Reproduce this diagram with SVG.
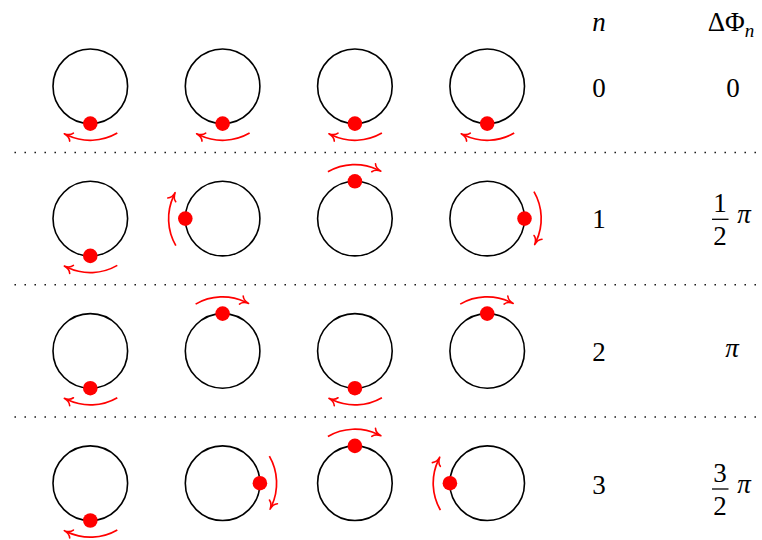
<svg xmlns="http://www.w3.org/2000/svg" width="762" height="540" viewBox="0 0 762 540">
<defs>
<style>
.ring{fill:none;stroke:#000;stroke-width:1.6}
.dot{fill:#ff0000}
.rot{fill:none;stroke:#ff0000;stroke-width:1.7;marker-end:url(#ah)}
.sep{stroke:#000;stroke-width:1.4;stroke-dasharray:1.4 8.6}
.t{font-family:'Liberation Serif','DejaVu Serif',serif;font-size:27px;fill:#000;text-anchor:middle}
.it{font-style:italic}
</style>
<marker id="ah" markerUnits="userSpaceOnUse" markerWidth="16" markerHeight="16" refX="0" refY="0" orient="auto" overflow="visible">
<path d="M-4.5,-4.4 C-3,-1.6 0,-0.3 3.5,0 C0,0.3 -3,1.6 -4.5,4.4" fill="none" stroke="#ff0000" stroke-width="1.6" stroke-linecap="round" stroke-linejoin="round"/>
</marker>
<g id="c">
<circle class="ring" r="37.3"/>
</g>
</defs>

<g id="separators">
<line class="sep" x1="14.5" y1="152.5" x2="762" y2="152.5"/>
<line class="sep" x1="14.5" y1="284.8" x2="762" y2="284.8"/>
<line class="sep" x1="14.5" y1="417" x2="762" y2="417"/>
</g>

<!-- Row 0 -->
<g id="r0c1" transform="translate(90.3,86.3)"><use href="#c"/><circle class="dot" cx="0" cy="37.3" r="7.3"/><path class="rot" d="M27,46.77 A54,54 0 0 1 -22.82,48.94"/></g>
<g id="r0c2" transform="translate(222.6,86.3)"><use href="#c"/><circle class="dot" cx="0" cy="37.3" r="7.3"/><path class="rot" d="M27,46.77 A54,54 0 0 1 -22.82,48.94"/></g>
<g id="r0c3" transform="translate(354.9,86.3)"><use href="#c"/><circle class="dot" cx="0" cy="37.3" r="7.3"/><path class="rot" d="M27,46.77 A54,54 0 0 1 -22.82,48.94"/></g>
<g id="r0c4" transform="translate(487.2,86.3)"><use href="#c"/><circle class="dot" cx="0" cy="37.3" r="7.3"/><path class="rot" d="M27,46.77 A54,54 0 0 1 -22.82,48.94"/></g>

<!-- Row 1 -->
<g id="r1c1" transform="translate(90.3,218.6)"><use href="#c"/><circle class="dot" cx="0" cy="37.3" r="7.3"/><path class="rot" d="M27,46.77 A54,54 0 0 1 -22.82,48.94"/></g>
<g id="r1c2" transform="translate(222.6,218.6)"><use href="#c"/><circle class="dot" cx="-37.3" cy="0" r="7.3"/><path class="rot" d="M-46.77,27 A54,54 0 0 1 -48.94,-22.82"/></g>
<g id="r1c3" transform="translate(354.9,218.6)"><use href="#c"/><circle class="dot" cx="0" cy="-37.3" r="7.3"/><path class="rot" d="M-27,-46.77 A54,54 0 0 1 22.82,-48.94"/></g>
<g id="r1c4" transform="translate(487.2,218.6)"><use href="#c"/><circle class="dot" cx="37.3" cy="0" r="7.3"/><path class="rot" d="M46.77,-27 A54,54 0 0 1 48.94,22.82"/></g>

<!-- Row 2 -->
<g id="r2c1" transform="translate(90.3,350.9)"><use href="#c"/><circle class="dot" cx="0" cy="37.3" r="7.3"/><path class="rot" d="M27,46.77 A54,54 0 0 1 -22.82,48.94"/></g>
<g id="r2c2" transform="translate(222.6,350.9)"><use href="#c"/><circle class="dot" cx="0" cy="-37.3" r="7.3"/><path class="rot" d="M-27,-46.77 A54,54 0 0 1 22.82,-48.94"/></g>
<g id="r2c3" transform="translate(354.9,350.9)"><use href="#c"/><circle class="dot" cx="0" cy="37.3" r="7.3"/><path class="rot" d="M27,46.77 A54,54 0 0 1 -22.82,48.94"/></g>
<g id="r2c4" transform="translate(487.2,350.9)"><use href="#c"/><circle class="dot" cx="0" cy="-37.3" r="7.3"/><path class="rot" d="M-27,-46.77 A54,54 0 0 1 22.82,-48.94"/></g>

<!-- Row 3 -->
<g id="r3c1" transform="translate(90.3,483.2)"><use href="#c"/><circle class="dot" cx="0" cy="37.3" r="7.3"/><path class="rot" d="M27,46.77 A54,54 0 0 1 -22.82,48.94"/></g>
<g id="r3c2" transform="translate(222.6,483.2)"><use href="#c"/><circle class="dot" cx="37.3" cy="0" r="7.3"/><path class="rot" d="M46.77,-27 A54,54 0 0 1 48.94,22.82"/></g>
<g id="r3c3" transform="translate(354.9,483.2)"><use href="#c"/><circle class="dot" cx="0" cy="-37.3" r="7.3"/><path class="rot" d="M-27,-46.77 A54,54 0 0 1 22.82,-48.94"/></g>
<g id="r3c4" transform="translate(487.2,483.2)"><use href="#c"/><circle class="dot" cx="-37.3" cy="0" r="7.3"/><path class="rot" d="M-46.77,27 A54,54 0 0 1 -48.94,-22.82"/></g>

<g id="labels">
<text class="t it" font-family="Liberation Serif, serif" x="599" y="31">n</text>
<text class="t" font-family="Liberation Serif, serif" x="731" y="31">ΔΦ<tspan class="it" font-size="19" dy="6">n</tspan></text>
<text class="t" font-family="Liberation Serif, serif" x="599" y="97">0</text>
<text class="t" font-family="Liberation Serif, serif" x="733" y="97">0</text>
<text class="t" font-family="Liberation Serif, serif" x="599" y="228">1</text>
<text class="t" font-family="Liberation Serif, serif" x="720" y="212">1</text>
<line x1="712" y1="219.3" x2="728.5" y2="219.3" stroke="#000" stroke-width="1.3"/>
<text class="t" font-family="Liberation Serif, serif" x="720" y="245">2</text>
<text class="t it" font-family="Liberation Serif, serif" x="744" y="223">π</text>
<text class="t" font-family="Liberation Serif, serif" x="599" y="361">2</text>
<text class="t it" font-family="Liberation Serif, serif" x="732" y="357">π</text>
<text class="t" font-family="Liberation Serif, serif" x="599" y="494">3</text>
<text class="t" font-family="Liberation Serif, serif" x="720" y="482">3</text>
<line x1="712" y1="489" x2="728.5" y2="489" stroke="#000" stroke-width="1.3"/>
<text class="t" font-family="Liberation Serif, serif" x="720" y="515">2</text>
<text class="t it" font-family="Liberation Serif, serif" x="744" y="493">π</text>
</g>
</svg>
